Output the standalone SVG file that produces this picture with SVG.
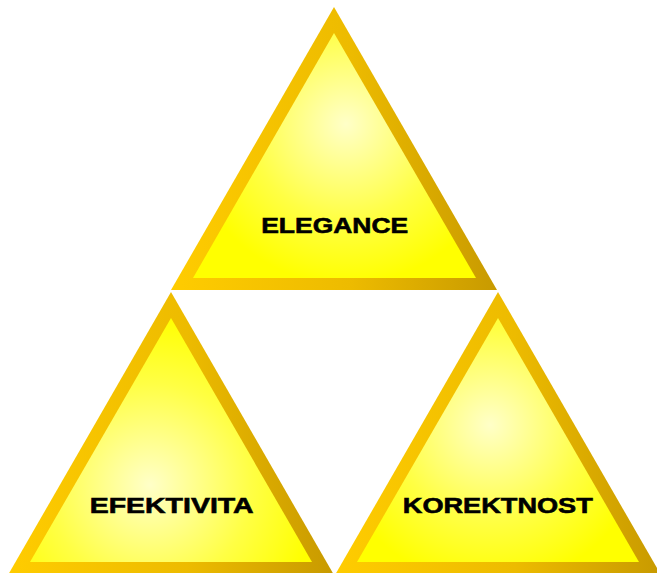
<svg xmlns="http://www.w3.org/2000/svg" width="657" height="573" viewBox="0 0 657 573">
<defs>
<linearGradient id="rim" x1="0" y1="0" x2="1" y2="0">
<stop offset="0" stop-color="#FFCC00"/>
<stop offset="0.55" stop-color="#EDBB00"/>
<stop offset="1" stop-color="#C89A00"/>
</linearGradient>
<radialGradient id="g1" gradientUnits="userSpaceOnUse" cx="346" cy="124" r="160">
<stop offset="0" stop-color="#FFFFC8"/>
<stop offset="0.6" stop-color="#FFFF44"/>
<stop offset="1" stop-color="#FFFF00"/>
</radialGradient>
<radialGradient id="g2" gradientUnits="userSpaceOnUse" cx="150" cy="485" r="170">
<stop offset="0" stop-color="#FFFFC8"/>
<stop offset="0.6" stop-color="#FFFF44"/>
<stop offset="1" stop-color="#FFFF00"/>
</radialGradient>
<radialGradient id="g3" gradientUnits="userSpaceOnUse" cx="490" cy="425" r="160">
<stop offset="0" stop-color="#FFFFC8"/>
<stop offset="0.6" stop-color="#FFFF44"/>
<stop offset="1" stop-color="#FFFF00"/>
</radialGradient>
</defs>
<style>
.rim{fill:url(#rim)}
.lbl{font-family:"Liberation Sans",Arial,sans-serif;font-weight:bold;font-size:22px;fill:#000;stroke:#000;stroke-width:0.6px;text-anchor:middle}
</style>
<g id="elegance">
<polygon class="rim" points="334,7 497,290 171,290"/>
<polygon fill="url(#g1)" points="334,33 476,278 193,278"/>
<text class="lbl" x="334.7" y="232.5" textLength="147" lengthAdjust="spacingAndGlyphs">ELEGANCE</text>
</g>
<g id="efektivita">
<polygon class="rim" points="171,292 334,575 8,575"/>
<polygon fill="url(#g2)" points="171,318 312,562 30,562"/>
<text class="lbl" x="171.7" y="512.5" textLength="164" lengthAdjust="spacingAndGlyphs">EFEKTIVITA</text>
</g>
<g id="korektnost">
<polygon class="rim" points="498,292 661,575 335,575"/>
<polygon fill="url(#g3)" points="498,318 639,562 357,562"/>
<text class="lbl" x="497.8" y="512.5" textLength="190" lengthAdjust="spacingAndGlyphs">KOREKTNOST</text>
</g>
<g id="connectors"/>
</svg>
